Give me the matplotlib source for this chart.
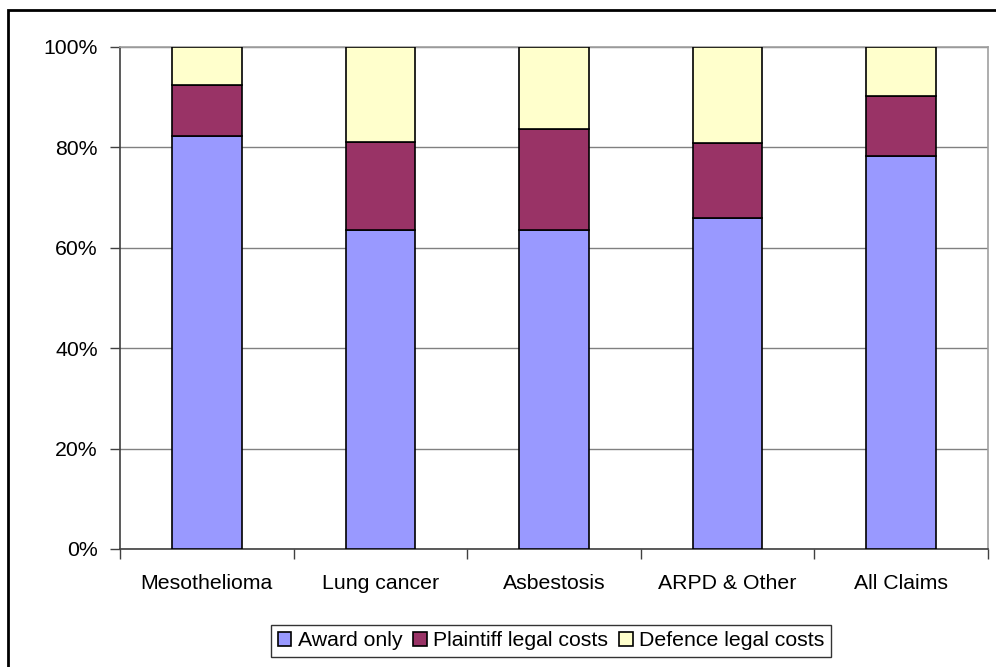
import matplotlib

matplotlib.use("Agg")

import matplotlib.pyplot as plt
import numpy as np
from matplotlib.patches import Rectangle
from matplotlib.ticker import FuncFormatter, FixedLocator

plt.rcParams["font.family"] = ["Liberation Sans", "DejaVu Sans"]

categories = ["Mesothelioma", "Lung cancer", "Asbestosis", "ARPD & Other", "All Claims"]
award_only = [82.3, 63.5, 63.5, 66.0, 78.3]
plaintiff_costs = [10.1, 17.6, 20.2, 14.8, 12.0]
defence_costs = [7.6, 18.9, 16.3, 19.2, 9.7]

series = [
    ("Award only", award_only, "#9999FF"),
    ("Plaintiff legal costs", plaintiff_costs, "#993366"),
    ("Defence legal costs", defence_costs, "#FFFFCC"),
]

fig = plt.figure(figsize=(9.96, 6.67), dpi=100)
ax = fig.add_axes([120 / 996, 1 - 549 / 667, 868 / 996, 502 / 667])

x = np.arange(len(categories))
bottom = np.zeros(len(categories))
for label, vals, color in series:
    vals = np.array(vals)
    ax.bar(x, vals, width=0.4, bottom=bottom, color=color, edgecolor="black",
           linewidth=1.2, label=label, zorder=3)
    bottom += vals

ax.set_xlim(-0.5, len(categories) - 0.5)
ax.set_ylim(0, 100)
ax.set_yticks([0, 20, 40, 60, 80, 100])
ax.yaxis.set_major_formatter(FuncFormatter(lambda v, _: f"{v:.0f}%"))
ax.yaxis.grid(True, color="#808080", linewidth=1, zorder=0)

ax.set_xticks(x)
ax.set_xticklabels(categories)
ax.xaxis.set_minor_locator(FixedLocator(np.arange(len(categories) + 1) - 0.5))
ax.tick_params(axis="x", which="major", length=0, pad=18, labelsize=15.3)
ax.tick_params(axis="x", which="minor", length=7, width=1, color="#404040")
ax.tick_params(axis="y", length=7, width=1, color="#404040", pad=9, labelsize=15.3)

ax.spines["left"].set_color("#404040")
ax.spines["bottom"].set_color("#404040")
ax.spines["top"].set_color("#a0a0a0")
ax.spines["right"].set_color("#a0a0a0")
for s in ax.spines.values():
    s.set_linewidth(1.2)

leg = ax.legend(loc="center", bbox_to_anchor=(551 / 996, 1 - 641 / 667),
                bbox_transform=fig.transFigure, ncol=3, frameon=True,
                fancybox=False, edgecolor="black", fontsize=15.3,
                handlelength=0.65, handleheight=0.65, handletextpad=0.3,
                columnspacing=0.5, borderpad=0.3, borderaxespad=0)
leg.get_frame().set_linewidth(1.0)

# outer chart border (cropped at right and bottom in the original)
fig.patches.append(Rectangle((8 / 996, -0.05), 1.1, 1 - 10 / 667 + 0.05,
                             transform=fig.transFigure, fill=False,
                             edgecolor="black", linewidth=2))

fig.savefig("out.png", dpi=100)
